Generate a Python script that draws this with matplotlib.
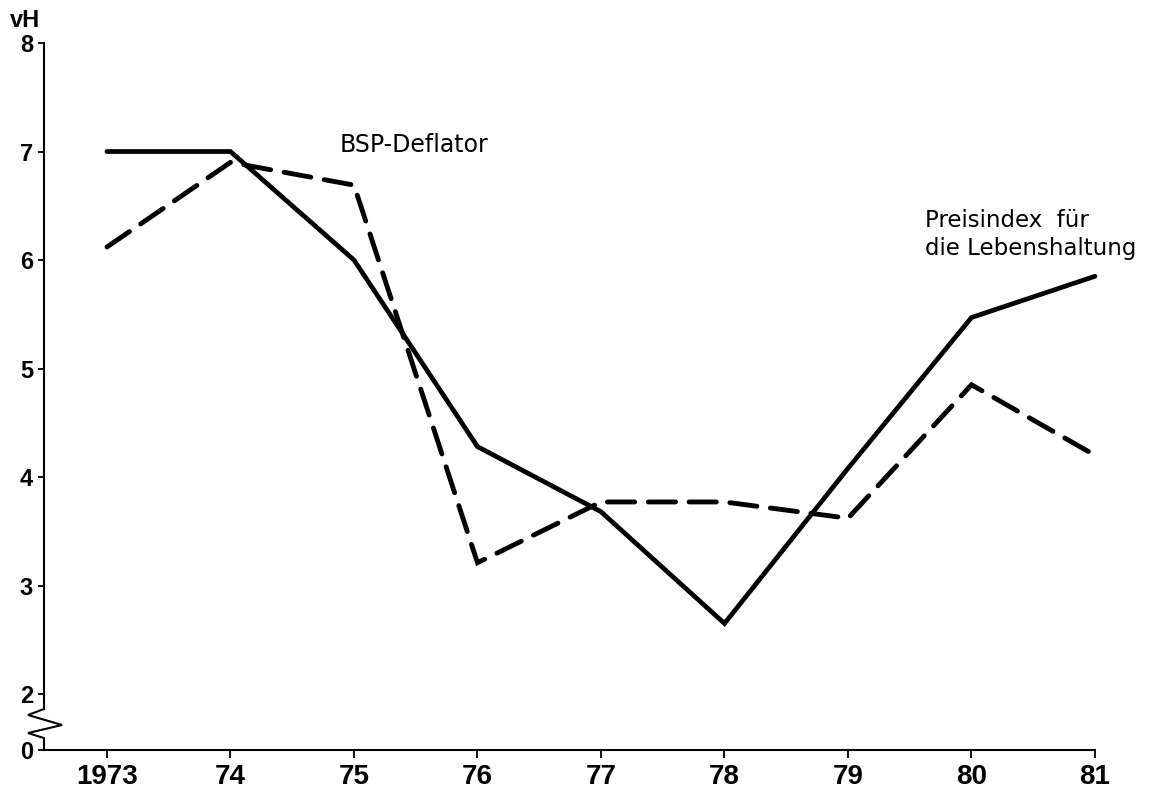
import matplotlib
matplotlib.use("Agg")
from matplotlib import pyplot as plt

# jahre und werte (vH, veraenderung gegen vorjahr)
jahre = [1973, 1974, 1975, 1976, 1977, 1978, 1979, 1980, 1981]
jahr_labels = ["1973", "74", "75", "76", "77", "78", "79", "80", "81"]
preisindex = [7.0, 7.0, 6.0, 4.28, 3.68, 2.65, 4.08, 5.47, 5.85]
bsp_deflator = [6.12, 6.9, 6.69, 3.21, 3.77, 3.77, 3.62, 4.85, 4.2]

y_ticks = [2, 3, 4, 5, 6, 7, 8]
y_unten = 1.484      # hier sitzt die "0" (achsenbruch)
bruch_oben = 1.862
bruch_unten = 1.594

fig = plt.figure(figsize=(11.64, 7.9), dpi=100)
ax = fig.add_axes([44 / 1164, 40 / 790, (1095 - 44) / 1164, (750 - 43) / 790])

ax.plot(jahre, preisindex, color="black", lw=3.4, solid_capstyle="round",
        solid_joinstyle="miter", clip_on=False)
ax.plot(jahre, bsp_deflator, color="black", lw=3.5, linestyle=(0, (5.6, 2.8)),
        dash_capstyle="round", dash_joinstyle="miter", clip_on=False)

ax.set_xlim(1972.49, 1981)
ax.set_ylim(y_unten, 8)

ax.spines["top"].set_visible(False)
ax.spines["right"].set_visible(False)
ax.spines["left"].set_bounds(bruch_oben, 8)
ax.spines["left"].set_linewidth(1.5)
ax.spines["bottom"].set_linewidth(1.5)

ax.set_xticks(jahre)
ax.set_xticklabels(jahr_labels)
ax.set_yticks([y_unten] + y_ticks)
ax.set_yticklabels(["0"] + [str(t) for t in y_ticks])

schmal = ["Liberation Sans", "DejaVu Sans"]
for lab in ax.get_xticklabels():
    lab.set_family(schmal)
    lab.set_fontweight("bold")
    lab.set_fontsize(20)
for lab in ax.get_yticklabels():
    lab.set_family(schmal)
    lab.set_fontweight("bold")
    lab.set_fontsize(17)

ax.tick_params(axis="x", direction="out", length=6, width=1.3, pad=4)
ax.tick_params(axis="y", direction="out", length=4, width=1.3, pad=4)

# achsenbruch (zickzack) und unteres stueck der y-achse
px_x = 1 / 123.5
px_y = 1 / 108.5
x0 = 1972.49
zz_x = [x0, x0 - 16 * px_x, x0 + 18 * px_x, x0 - 16 * px_x, x0, x0]
zz_y = [bruch_oben, bruch_oben - 6 * px_y, bruch_oben - 16 * px_y,
        bruch_unten + 5 * px_y, bruch_unten, y_unten]
ax.plot(zz_x, zz_y, color="black", lw=1.5, clip_on=False,
        solid_joinstyle="miter")

fig.text(10 / 1164, 1 - 27 / 790, "vH", family=schmal, fontweight="bold",
         fontsize=17, ha="left", va="baseline")

ax.text(1974.88, 7.0, "BSP-Deflator", fontsize=17, ha="left",
        va="baseline")
ax.text(1979.62, 6.05, "Preisindex  für\ndie Lebenshaltung", fontsize=16.5,
        ha="left", va="baseline", linespacing=1.25)

fig.savefig("out.png", dpi=100)
